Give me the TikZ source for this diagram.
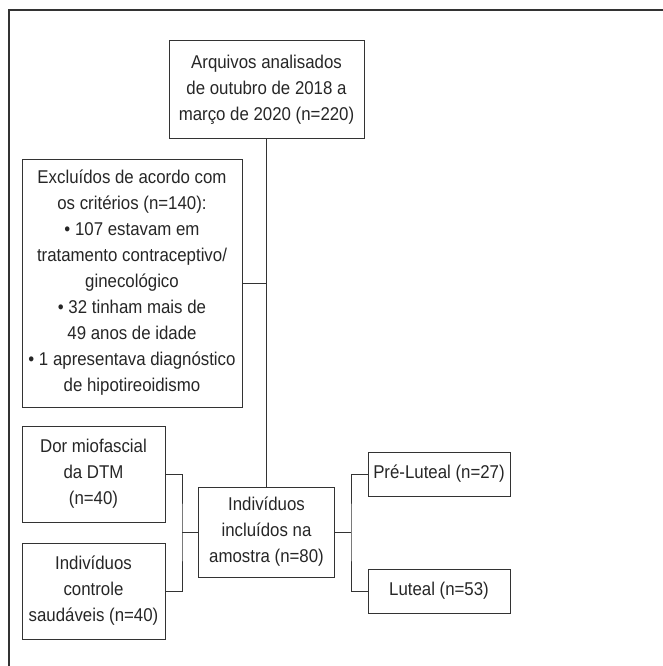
\documentclass[tikz,border=0pt]{standalone}
\usepackage{fontspec}
\setmainfont[FakeStretch=0.91]{Liberation Sans}
\begin{document}
\begin{tikzpicture}[x=1pt,y=-1pt,
  box/.style={draw=black!80, line width=1pt, align=center, inner sep=2pt,
    font=\fontsize{18.5}{26}\selectfont, text=black!85},
  conn/.style={draw=black!80, line width=1pt}]
\useasboundingbox (0,0) rectangle (663,666);
\draw[line width=1.1pt, black!80] (9,666) -- (9,10) -- (663,10);
\node[box, minimum width=195pt, minimum height=97pt] (top) at (266.5,89.5)
  {Arquivos analisados\\de outubro de 2018 a\\março de 2020 (n=220)};
\node[box, minimum width=220pt, minimum height=248pt] (excl) at (132,283)
  {Excluídos de acordo com\\os critérios (n=140):\\• 107 estavam em\\tratamento contraceptivo/\\ginecológico\\• 32 tinham mais de\\49 anos de idade\\• 1 apresentava diagnóstico\\de hipotireoidismo};
\node[box, minimum width=143pt, minimum height=96pt] (dor) at (93.5,474)
  {Dor miofascial\\da DTM\\(n=40)};
\node[box, minimum width=143pt, minimum height=96pt] (ctrl) at (93.5,591)
  {Indivíduos\\controle\\saudáveis (n=40)};
\node[box, minimum width=136pt, minimum height=90pt] (ind) at (266.5,532)
  {Indivíduos\\incluídos na\\amostra (n=80)};
\node[box, minimum width=142pt, minimum height=44pt] (pre) at (439,474)
  {Pré-Luteal (n=27)};
\node[box, minimum width=142pt, minimum height=44pt] (lut) at (439,591)
  {Luteal (n=53)};
\coordinate (jl) at (182,532);
\coordinate (jr) at (351,532);
\draw[conn] (top.south) -- (ind.north);
\draw[conn] (excl.east) -- (excl.east -| top.south);
\draw[conn] (dor.east) -| (jl) |- (ctrl.east);
\draw[conn] (jl) -- (ind.west);
\draw[conn] (ind.east) -- (jr);
\draw[conn] (pre.west) -| (jr) |- (lut.west);
\end{tikzpicture}
\end{document}
